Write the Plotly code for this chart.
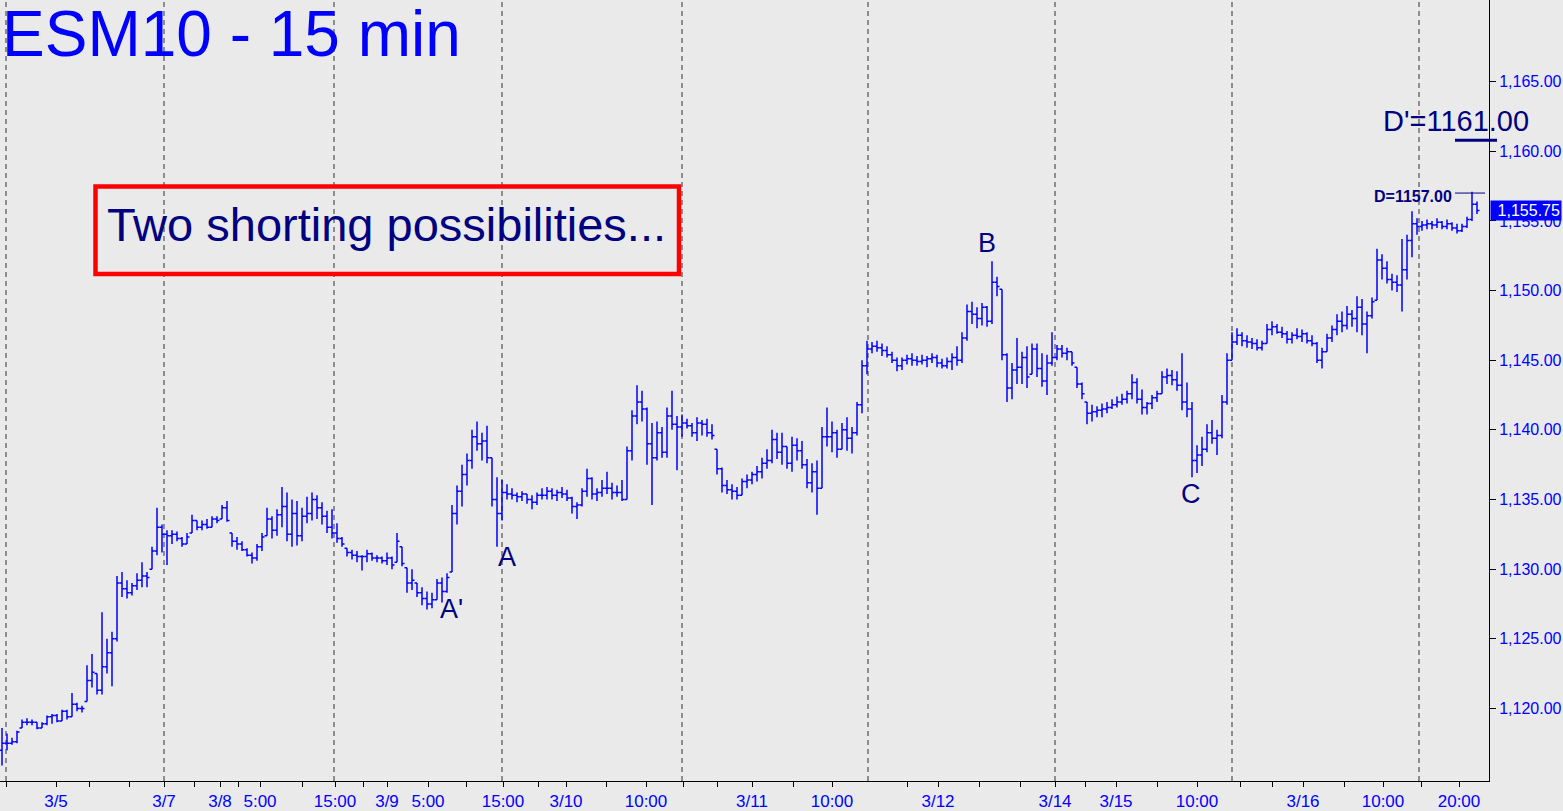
import plotly.graph_objects as go

# ---------------- data (15-min bars) ----------------
highs = [
    1118.6,1118.2,1117.9,1118.4,1119.2,1119.3,1119.2,1119.0,1119.0,1119.5,
    1119.6,1119.6,1119.9,1119.9,1121.1,1120.4,1120.2,1123.1,1123.9,1122.5,
    1126.9,1125.0,1125.5,1129.5,1129.8,1129.2,1129.0,1129.7,1130.5,1129.8,
    1131.6,1134.4,1133.2,1132.8,1132.8,1132.7,1132.3,1132.6,1133.9,1133.5,
    1133.5,1133.6,1133.8,1133.8,1134.6,1134.9,1132.6,1132.3,1132.0,1131.5,
    1131.2,1131.8,1132.6,1134.4,1133.8,1134.3,1135.9,1135.5,1135.0,1134.9,
    1134.4,1135.2,1135.5,1135.3,1134.8,1134.2,1134.3,1133.3,1132.3,1131.5,
    1131.4,1131.3,1131.0,1131.4,1131.2,1131.0,1130.9,1131.2,1130.9,1132.6,
    1131.6,1130.1,1130.0,1129.0,1128.7,1128.4,1128.3,1129.3,1129.4,1129.7,
    1134.6,1136.0,1137.5,1138.3,1140.0,1140.6,1139.8,1140.3,1138.0,1136.6,
    1136.4,1136.1,1135.8,1135.5,1135.6,1135.4,1135.3,1135.5,1135.8,1135.9,
    1135.8,1135.7,1135.9,1135.7,1135.2,1134.8,1135.8,1137.2,1136.6,1135.8,
    1136.4,1137.0,1136.2,1136.0,1136.4,1138.8,1141.4,1143.2,1142.8,1141.6,
    1140.5,1140.6,1140.2,1141.6,1142.8,1141.0,1141.1,1140.8,1140.5,1140.9,
    1140.7,1140.8,1140.4,1138.6,1137.3,1136.4,1136.1,1135.9,1136.5,1136.8,
    1137.0,1137.4,1138.0,1138.6,1140.0,1139.8,1139.8,1138.8,1139.5,1139.4,
    1139.2,1137.9,1137.6,1137.8,1140.2,1141.6,1140.6,1140.0,1140.5,1140.9,
    1140.2,1142.0,1145.0,1146.4,1146.3,1146.4,1146.2,1146.0,1145.6,1145.2,
    1145.2,1145.4,1145.5,1145.3,1145.4,1145.3,1145.5,1145.4,1145.1,1145.2,
    1145.5,1146.0,1147.0,1149.0,1149.2,1148.8,1149.1,1148.9,1152.1,1151.0,
    1150.1,1145.5,1144.8,1146.6,1145.6,1146.0,1146.2,1146.2,1145.5,1145.4,
    1147.0,1146.1,1146.1,1145.9,1145.6,1144.5,1143.4,1142.0,1141.8,1141.7,
    1141.9,1142.0,1142.2,1142.4,1142.6,1142.8,1144.0,1143.7,1142.9,1142.0,
    1142.5,1142.8,1144.2,1144.4,1144.3,1144.2,1145.5,1143.4,1142.0,1138.9,
    1139.5,1140.4,1140.7,1140.0,1142.5,1145.5,1147.0,1147.3,1147.0,1146.8,
    1146.6,1146.5,1146.4,1147.6,1147.8,1147.6,1147.4,1147.1,1147.0,1147.3,
    1147.2,1147.0,1146.8,1146.3,1145.9,1146.9,1147.5,1148.3,1148.5,1148.9,
    1148.6,1149.6,1149.4,1148.5,1149.5,1153.0,1152.6,1152.1,1151.2,1151.1,
    1153.7,1154.0,1155.7,1155.2,1155.0,1155.1,1155.0,1155.2,1155.0,1155.1,
    1154.9,1154.8,1154.8,1155.3,1157.1,1156.4,
]
lows = [
    1115.9,1117.0,1117.4,1117.5,1118.6,1118.8,1118.8,1118.5,1118.6,1118.8,
    1118.9,1119.0,1119.1,1119.2,1119.4,1119.8,1119.7,1120.5,1121.5,1121.0,
    1121.0,1122.5,1121.6,1124.8,1128.0,1127.9,1128.1,1128.5,1128.7,1128.7,
    1130.0,1131.0,1131.2,1130.3,1131.8,1132.0,1131.6,1131.8,1132.6,1132.8,
    1132.8,1132.9,1133.0,1133.3,1133.6,1133.4,1131.6,1131.4,1131.3,1130.9,
    1130.4,1130.6,1131.3,1132.4,1132.2,1132.4,1133.0,1132.0,1131.6,1131.7,
    1132.0,1133.3,1133.5,1133.6,1133.2,1132.6,1132.2,1131.9,1131.6,1130.9,
    1130.7,1130.5,1129.9,1130.5,1130.6,1130.5,1130.4,1130.3,1130.0,1130.5,
    1130.2,1128.3,1128.5,1128.0,1127.4,1127.1,1127.2,1127.8,1127.6,1128.3,
    1129.8,1133.2,1134.5,1136.0,1137.2,1138.5,1137.8,1137.6,1134.5,1131.6,
    1133.5,1135.0,1135.0,1134.8,1134.9,1134.7,1134.3,1134.6,1135.0,1135.0,
    1135.0,1134.9,1135.1,1134.9,1134.0,1133.6,1134.5,1135.2,1135.0,1134.9,
    1135.2,1135.4,1135.0,1135.2,1134.9,1135.0,1137.8,1140.4,1140.6,1137.5,
    1134.6,1137.8,1138.0,1138.0,1140.0,1137.1,1139.5,1140.1,1139.5,1139.2,
    1139.6,1139.5,1139.3,1136.8,1135.5,1135.4,1135.0,1135.0,1135.3,1135.8,
    1136.1,1136.3,1136.5,1137.2,1137.6,1137.9,1137.5,1137.2,1137.0,1137.8,
    1137.2,1135.8,1135.5,1133.9,1135.8,1138.8,1138.4,1138.0,1138.6,1138.5,
    1138.3,1139.6,1141.2,1144.0,1145.5,1145.6,1145.3,1145.2,1144.8,1144.2,
    1144.3,1144.7,1144.6,1144.6,1144.7,1144.5,1144.8,1144.5,1144.4,1144.4,
    1144.3,1144.6,1144.8,1146.4,1147.6,1147.3,1147.5,1147.4,1147.6,1149.6,
    1145.0,1142.0,1142.2,1143.3,1143.3,1143.0,1144.0,1143.8,1143.1,1142.5,
    1144.6,1145.0,1145.2,1145.0,1144.6,1143.0,1142.2,1140.4,1140.6,1140.9,
    1140.9,1141.2,1141.5,1141.6,1141.8,1141.9,1142.2,1141.9,1141.1,1141.1,
    1141.5,1142.0,1142.6,1143.3,1143.2,1142.8,1141.4,1140.9,1136.6,1136.9,
    1137.4,1138.4,1139.0,1138.2,1139.4,1141.8,1145.0,1146.1,1146.0,1145.9,
    1145.8,1145.7,1145.7,1146.2,1146.8,1146.9,1146.6,1146.2,1146.2,1146.5,
    1146.3,1146.2,1146.0,1144.8,1144.4,1145.6,1146.3,1146.8,1147.0,1147.2,
    1147.4,1147.0,1146.8,1145.5,1148.0,1149.3,1150.8,1150.5,1150.0,1149.9,
    1148.5,1150.8,1152.4,1154.0,1154.3,1154.4,1154.4,1154.5,1154.4,1154.4,
    1154.3,1154.1,1154.2,1154.5,1155.0,1155.5,
]
closes = [
    1117.5,1117.5,1117.6,1118.3,1119.0,1119.0,1119.0,1118.6,1118.9,1119.4,
    1119.5,1119.1,1119.8,1119.4,1120.3,1120.0,1120.0,1122.0,1122.6,1121.3,
    1123.0,1124.0,1125.0,1129.0,1128.6,1128.3,1128.8,1129.2,1129.5,1129.4,
    1131.3,1133.0,1132.5,1132.4,1132.5,1132.2,1131.8,1132.3,1133.5,1133.0,
    1133.2,1133.0,1133.6,1133.5,1134.4,1133.5,1132.0,1131.8,1131.4,1131.0,
    1130.8,1131.6,1132.3,1133.6,1132.8,1133.9,1134.5,1132.5,1134.0,1132.4,
    1133.8,1134.0,1135.0,1134.4,1133.8,1133.0,1132.6,1132.2,1131.8,1131.2,
    1131.0,1130.9,1130.9,1131.1,1130.8,1130.8,1130.6,1130.8,1130.3,1132.0,
    1130.4,1129.0,1129.2,1128.3,1127.9,1127.5,1127.8,1129.0,1128.4,1129.4,
    1134.0,1135.6,1136.8,1137.8,1139.5,1139.0,1139.2,1138.0,1135.0,1134.0,
    1135.5,1135.4,1135.3,1135.2,1135.4,1135.0,1134.8,1135.3,1135.3,1135.6,
    1135.3,1135.5,1135.4,1135.1,1134.5,1134.6,1135.6,1136.5,1135.4,1135.5,
    1135.8,1135.8,1135.5,1135.5,1135.0,1138.5,1141.0,1142.0,1141.5,1139.0,
    1138.0,1139.8,1138.4,1141.0,1140.4,1140.2,1140.5,1140.3,1139.8,1140.5,
    1140.4,1139.8,1139.6,1137.2,1136.0,1135.7,1135.6,1135.3,1136.3,1136.4,
    1136.8,1137.0,1137.6,1137.8,1139.3,1138.4,1138.8,1137.6,1138.9,1138.5,
    1137.5,1136.2,1137.0,1135.8,1139.5,1139.5,1139.8,1138.6,1140.0,1139.4,
    1139.8,1141.8,1144.6,1145.8,1146.0,1145.9,1145.7,1145.4,1145.0,1144.6,
    1145.0,1145.1,1145.0,1144.9,1145.0,1145.1,1145.2,1144.8,1144.6,1144.9,
    1145.2,1145.0,1146.6,1148.5,1148.3,1148.0,1148.8,1147.8,1150.6,1150.3,
    1145.4,1143.0,1144.3,1144.5,1145.2,1143.8,1145.8,1144.4,1143.5,1144.8,
    1145.2,1145.8,1145.5,1145.6,1144.8,1143.3,1142.6,1141.2,1141.3,1141.4,
    1141.5,1141.6,1141.8,1142.0,1142.2,1142.6,1143.4,1142.2,1141.6,1141.9,
    1142.3,1142.6,1143.8,1143.9,1143.6,1143.2,1142.0,1141.5,1137.8,1138.2,
    1138.6,1139.8,1139.4,1139.6,1142.0,1145.0,1146.3,1146.8,1146.4,1146.3,
    1146.2,1145.9,1146.2,1147.2,1147.4,1147.0,1146.9,1146.5,1146.8,1146.7,
    1146.9,1146.4,1146.2,1145.0,1145.6,1146.6,1147.2,1147.8,1147.5,1148.3,
    1148.0,1148.8,1147.6,1148.2,1149.2,1152.2,1151.6,1150.8,1150.6,1150.4,
    1151.5,1153.6,1154.8,1154.6,1154.7,1154.8,1154.7,1154.9,1154.6,1154.8,
    1154.5,1154.3,1154.6,1155.1,1156.2,1155.75,
]
first_open = 1117.0

# session separators (bar positions) and time-axis labels (bar positions)
session_breaks = [0.8, 32.4, 66.4, 100, 136, 173.2, 210.6, 246, 283.4]
tick_bars = [10.8, 32.4, 43.6, 51.6, 66.6, 77, 85.2, 100.2, 112.8, 128.8,
             150, 166, 187.2, 210.6, 222.8, 239, 260.2, 276.2, 291.4]
tick_labels = ["3/5", "3/7", "3/8", "5:00", "15:00", "3/9", "5:00", "15:00",
               "3/10", "10:00", "3/11", "10:00", "3/12", "3/14", "3/15",
               "10:00", "3/16", "10:00", "20:00"]
minor_bars = [0.8, 17.4, 25.4, 38.4, 47.2, 60, 72.2, 92.8, 107.2, 120.8,
              136.2, 143, 158.2, 181, 195.4, 203.6, 216.6, 231, 247.6, 254,
              268.4, 283.8]
price_ticks = [1120, 1125, 1130, 1135, 1140, 1145, 1150, 1155, 1160, 1165]
last_price = 1155.75
target_D = 1157.00
target_D2 = 1161.00

# open of each bar = previous close (kept inside the bar's range)
opens = []
prev = first_open
for h, l, c in zip(highs, lows, closes):
    opens.append(min(max(prev, l), h))
    prev = c
xs = list(range(len(closes)))

# ---------------- figure ----------------
W, H = 1563, 811
PW, PH = 1489, 785          # plot area size in px
FONT = "Liberation Sans, Arial, sans-serif"
NAVY = "#000080"
BLUE = "#0000FF"


def px(x):
    return x / PW


def py(y):
    return 1 - y / PH


fig = go.Figure()
fig.add_trace(go.Ohlc(
    x=xs, open=opens, high=highs, low=lows, close=closes,
    increasing=dict(line=dict(color=BLUE, width=1.5)),
    decreasing=dict(line=dict(color=BLUE, width=1.5)),
    tickwidth=0.5, hoverinfo="skip", showlegend=False,
))

shapes = []
for b in session_breaks:
    shapes.append(dict(type="line", xref="x", yref="paper", x0=b, x1=b,
                       y0=0, y1=1, layer="below",
                       line=dict(color="#303030", width=1, dash="5px,4px")))
# red text box
shapes.append(dict(type="rect", xref="paper", yref="paper",
                   x0=px(95.5), x1=px(679), y0=py(187.5), y1=py(275.5),
                   line=dict(color="#FF0000", width=4.5)))
# D target line
shapes.append(dict(type="line", xref="x", yref="y", x0=290.6, x1=296.6,
                   y0=target_D, y1=target_D, line=dict(color=NAVY, width=1)))
# D' underline
shapes.append(dict(type="line", xref="paper", yref="paper",
                   x0=px(1455), x1=px(1497), y0=py(141), y1=py(141),
                   line=dict(color=NAVY, width=3)))

annotations = [
    dict(text="ESM10 - 15 min", xref="paper", yref="paper", x=px(0), y=py(34),
         xanchor="left", yanchor="middle", showarrow=False,
         font=dict(family=FONT, size=64, color=BLUE)),
    dict(text="Two shorting possibilities...", xref="paper", yref="paper",
         x=px(386), y=py(226), xanchor="center", yanchor="middle",
         showarrow=False, font=dict(family=FONT, size=47, color=NAVY)),
    dict(text="D'=%.2f" % target_D2, xref="paper", yref="paper",
         x=px(1456), y=py(122), xanchor="center", yanchor="middle",
         showarrow=False, font=dict(family=FONT, size=29, color=NAVY)),
    dict(text="<b>D=%.2f</b>" % target_D, xref="paper", yref="paper",
         x=px(1454), y=py(198), xanchor="right", yanchor="middle",
         showarrow=False, font=dict(family=FONT, size=16, color=NAVY)),
    dict(text="B", xref="x", yref="y", x=197, y=1153.4, showarrow=False,
         font=dict(family=FONT, size=27, color=NAVY)),
    dict(text="A", xref="x", yref="y", x=101, y=1130.86, showarrow=False,
         font=dict(family=FONT, size=27, color=NAVY)),
    dict(text="A'", xref="x", yref="y", x=89.8, y=1127.14, showarrow=False,
         font=dict(family=FONT, size=27, color=NAVY)),
    dict(text="C", xref="x", yref="y", x=237.8, y=1135.36, showarrow=False,
         font=dict(family=FONT, size=27, color=NAVY)),
    dict(text="{:,.2f}".format(last_price), xref="paper", yref="y",
         x=px(1490), y=last_price, xanchor="left", yanchor="middle",
         showarrow=False, bgcolor=BLUE, borderpad=1, width=68, align="right",
         font=dict(family=FONT, size=16, color="white")),
]

fig.update_layout(
    width=W, height=H,
    margin=dict(l=0, r=W - PW, t=0, b=H - PH, pad=0),
    paper_bgcolor="#EAEAEA", plot_bgcolor="#EAEAEA",
    shapes=shapes, annotations=annotations,
    showlegend=False,
    xaxis=dict(
        range=[-0.4, 297.4], rangeslider=dict(visible=False),
        showgrid=False, zeroline=False, showline=True, linecolor="black",
        linewidth=1, ticks="outside", ticklen=5, tickcolor="black",
        tickmode="array", tickvals=tick_bars, ticktext=tick_labels,
        tickfont=dict(family=FONT, size=17, color=BLUE),
        minor=dict(tickmode="array", tickvals=minor_bars, ticks="outside",
                   ticklen=5, tickcolor="black", showgrid=False),
    ),
    yaxis=dict(
        side="right", range=[1114.79, 1170.86],
        showgrid=False, zeroline=False, showline=True, linecolor="black",
        linewidth=1, ticks="outside", ticklen=6, tickcolor="black",
        tickmode="array", tickvals=price_ticks,
        ticktext=["{:,.2f}".format(v) for v in price_ticks],
        tickfont=dict(family=FONT, size=16, color=BLUE),
    ),
)

fig.write_html(
    "out.html",
    config={"displayModeBar": False},
    post_script="document.body.style.margin='0px';"
                "document.body.style.background='#EAEAEA';",
)
